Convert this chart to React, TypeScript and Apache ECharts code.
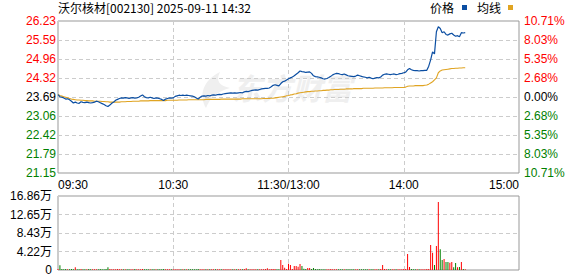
import React, { useEffect, useRef } from 'react';
import * as echarts from 'echarts';

const titleText = '沃尔核材[002130] 2025-09-11 14:32';
const priceTickLabels = ['21.15', '21.79', '22.42', '23.06', '23.69', '24.32', '24.96', '25.59', '26.23'];
const pctTickLabels = ['10.71%', '8.03%', '5.35%', '2.68%', '0.00%', '2.68%', '5.35%', '8.03%', '10.71%'];
const volTickLabels = ['0', '4.22万', '8.43万', '12.65万', '16.86万'];
const timeLabels = ['09:30', '10:30', '11:30/13:00', '14:00', '15:00'];
const prevClose = 23.69;

const prices = [
  23.77, 23.70, 23.68, 23.66, 23.62, 23.63, 23.60, 23.55, 23.49, 23.52,
  23.49, 23.48, 23.53, 23.51, 23.50, 23.52, 23.50, 23.49, 23.50, 23.52,
  23.55, 23.53, 23.50, 23.47, 23.44, 23.40, 23.37, 23.42, 23.48, 23.52,
  23.58, 23.61, 23.64, 23.66, 23.65, 23.67, 23.66, 23.64, 23.66, 23.67,
  23.65, 23.66, 23.68, 23.72, 23.76, 23.70, 23.67, 23.66, 23.68, 23.66,
  23.64, 23.66, 23.65, 23.63, 23.61, 23.57, 23.62, 23.64, 23.66, 23.65,
  23.66, 23.71, 23.73, 23.75, 23.74, 23.75, 23.74, 23.75, 23.74, 23.73,
  23.72, 23.70, 23.66, 23.62, 23.68, 23.72, 23.73, 23.72, 23.74, 23.73,
  23.75, 23.76, 23.75, 23.77, 23.78, 23.77, 23.79, 23.80, 23.81, 23.82,
  23.83, 23.82, 23.83, 23.82, 23.83, 23.84, 23.83, 23.86, 23.88, 23.87,
  23.89, 23.91, 23.92, 23.93, 23.92, 23.94, 23.96, 23.97, 23.98, 23.98,
  23.99, 24.03, 24.08, 24.10, 24.08, 24.06, 24.14, 24.20, 24.22, 24.26,
  24.30, 24.33, 24.36, 24.40, 24.45, 24.50, 24.56, 24.54, 24.53, 24.51,
  24.52, 24.53, 24.48, 24.40, 24.37, 24.36, 24.35, 24.33, 24.30, 24.29,
  24.31, 24.34, 24.38, 24.43, 24.46, 24.48, 24.47, 24.45, 24.44, 24.46,
  24.43, 24.40, 24.39, 24.38, 24.37, 24.39, 24.42, 24.40, 24.38, 24.36,
  24.35, 24.33, 24.35, 24.32, 24.30, 24.32, 24.34, 24.33, 24.36, 24.42,
  24.45, 24.46, 24.45, 24.44, 24.45, 24.46, 24.44, 24.45, 24.47, 24.48,
  24.50, 24.52, 24.60, 24.64, 24.60, 24.58, 24.57, 24.57, 24.56, 24.57,
  24.57, 24.58, 24.58, 24.72, 24.93, 25.20, 25.13, 25.87, 26.04, 25.98,
  25.84, 25.87, 25.78, 25.76, 25.80, 25.82, 25.76, 25.72, 25.74, 25.70,
  25.84, 25.83, 25.84,
];

const avgPrices = [
  23.77, 23.74, 23.72, 23.70, 23.68, 23.66, 23.64, 23.62, 23.61, 23.60,
  23.59, 23.59, 23.58, 23.58, 23.57, 23.57, 23.56, 23.56, 23.56, 23.55,
  23.55, 23.55, 23.55, 23.54, 23.54, 23.53, 23.53, 23.52, 23.52, 23.52,
  23.52, 23.52, 23.52, 23.53, 23.53, 23.53, 23.54, 23.54, 23.54, 23.55,
  23.55, 23.55, 23.55, 23.56, 23.56, 23.56, 23.56, 23.56, 23.57, 23.57,
  23.57, 23.57, 23.57, 23.57, 23.57, 23.57, 23.57, 23.58, 23.58, 23.58,
  23.58, 23.58, 23.58, 23.59, 23.59, 23.59, 23.59, 23.59, 23.60, 23.60,
  23.60, 23.60, 23.60, 23.60, 23.60, 23.60, 23.60, 23.61, 23.61, 23.61,
  23.61, 23.61, 23.61, 23.61, 23.61, 23.62, 23.62, 23.62, 23.62, 23.62,
  23.62, 23.62, 23.62, 23.62, 23.62, 23.62, 23.63, 23.63, 23.63, 23.63,
  23.63, 23.63, 23.63, 23.63, 23.63, 23.63, 23.63, 23.64, 23.64, 23.64,
  23.64, 23.65, 23.65, 23.66, 23.67, 23.68, 23.69, 23.70, 23.71, 23.73,
  23.74, 23.76, 23.77, 23.79, 23.80, 23.82, 23.83, 23.84, 23.85, 23.86,
  23.87, 23.87, 23.88, 23.88, 23.89, 23.89, 23.90, 23.90, 23.91, 23.91,
  23.92, 23.92, 23.93, 23.93, 23.94, 23.94, 23.94, 23.95, 23.95, 23.95,
  23.96, 23.96, 23.96, 23.96, 23.97, 23.97, 23.97, 23.97, 23.97, 23.98,
  23.98, 23.98, 23.98, 23.98, 23.98, 23.99, 23.99, 23.99, 23.99, 23.99,
  24.00, 24.00, 24.00, 24.00, 24.00, 24.01, 24.01, 24.01, 24.01, 24.01,
  24.01, 24.02, 24.05, 24.06, 24.06, 24.06, 24.07, 24.07, 24.07, 24.07,
  24.07, 24.08, 24.09, 24.12, 24.16, 24.20, 24.26, 24.33, 24.50, 24.56,
  24.59, 24.60, 24.61, 24.62, 24.63, 24.64, 24.64, 24.65, 24.65, 24.66,
  24.66, 24.67, 24.67,
];

// 成交量（万）
const volumes = [
  0.2, 1.06, 0.22, 0.18, 0.2, 0.15, 0.17, 0.2, 0.16, 0.6,
  0.18, 0.15, 0.2, 0.17, 0.16, 0.18, 0.2, 0.15, 0.17, 0.19,
  0.16, 0.18, 0.2, 0.17, 0.19, 0.22, 0.6, 0.2, 0.17, 0.18,
  0.16, 0.2, 0.15, 0.17, 0.18, 0.16, 0.19, 0.15, 0.18, 0.17,
  0.2, 0.16, 0.15, 0.18, 0.22, 0.17, 0.16, 0.18, 0.15, 0.17,
  0.16, 0.15, 0.17, 0.18, 0.16, 0.2, 0.17, 0.15, 0.16, 0.18,
  0.17, 0.19, 0.16, 0.15, 0.17, 0.16, 0.18, 0.15, 0.16, 0.17,
  0.15, 0.16, 0.18, 0.2, 0.17, 0.16, 0.15, 0.17, 0.16, 0.18,
  0.17, 0.16, 0.15, 0.18, 0.17, 0.16, 0.18, 0.17, 0.16, 0.15,
  0.17, 0.16, 0.18, 0.15, 0.17, 0.16, 0.18, 0.2, 0.42, 0.18,
  0.17, 0.16, 0.18, 0.17, 0.16, 0.18, 0.17, 0.16, 0.2, 0.4,
  0.18, 0.2, 0.22, 0.2, 0.18, 0.17, 2.28, 1.14, 0.5, 0.25,
  1.44, 1.14, 0.25, 0.9, 0.9, 0.76, 1.37, 0.9, 0.3, 0.2,
  0.45, 0.45, 0.2, 0.45, 0.2, 0.18, 0.2, 0.17, 0.19, 0.16,
  0.18, 0.17, 0.2, 0.18, 0.16, 0.17, 0.18, 0.16, 0.15, 0.17,
  0.16, 0.18, 0.17, 0.15, 0.16, 0.18, 0.17, 0.16, 0.15, 0.17,
  0.18, 0.16, 0.17, 0.15, 0.16, 0.17, 0.18, 0.16, 0.2, 1.14,
  0.2, 0.18, 0.16, 0.17, 0.15, 0.16, 0.18, 0.17, 0.16, 0.18,
  0.2, 0.22, 3.65, 0.68, 0.2, 0.18, 0.17, 0.16, 0.18, 0.17,
  0.16, 0.18, 0.2, 0.22, 5.7, 3.95, 1.14, 5.47, 15.5, 4.7,
  2.28, 2.5, 1.82, 1.82, 1.67, 1.82, 0.6, 1.6, 0.6, 0.7,
  1.82, 0.2, 0.15,
];

const AX_MIN = 21.15;
const AX_STEP = 0.635;
const VOL_STEP = 4.215;
const toAxis = (p: number) => (p - AX_MIN) / AX_STEP;

const RED = '#ff0000';
const GREEN = '#008000';
const BLUE = '#0b4ea2';
const ORANGE = '#e0a422';
const NUM_FONT = 'Arial, "Liberation Sans", "Noto Sans CJK SC", sans-serif';
const CJK_FONT = '"Noto Sans CJK SC", sans-serif';

const tickColor = (v: any) => {
  const n = Math.round(Number(v));
  return n > 4 ? RED : n < 4 ? GREEN : '#000000';
};

echarts.graphic.registerShape(
  'logo',
  echarts.graphic.extendPath('M22 0 C6 8 0 22 8 36 C12 26 18 20 32 16 C22 14 17 9 22 0 Z', {})
);

export default function App() {
  const ref = useRef<HTMLDivElement>(null);
  useEffect(() => {
    if (!ref.current) return;
    const chart = echarts.init(ref.current, null, { renderer: 'svg' });
    const splitStyle = { show: true, lineStyle: { color: '#cccccc', type: [4, 3] as any, width: 1 } };
    const option: any = {
      animation: false,
      grid: [
        { left: 58, top: 21, width: 461, height: 152, show: true, borderColor: '#999999', borderWidth: 1 },
        { left: 58, top: 196, width: 461, height: 74, show: true, borderColor: '#999999', borderWidth: 1 },
      ],
      xAxis: [
        {
          type: 'value', gridIndex: 0, min: 0, max: 240, interval: 60,
          axisLine: { show: false }, axisTick: { show: false }, splitLine: splitStyle,
          axisLabel: {
            show: true, margin: 6, fontSize: 12, color: '#000', fontFamily: NUM_FONT,
            formatter: (v: number) => timeLabels[Math.round(v / 60)],
            alignMinLabel: 'left', alignMaxLabel: 'right',
          },
        },
        {
          type: 'value', gridIndex: 1, min: 0, max: 240, interval: 60,
          axisLine: { show: false }, axisTick: { show: false }, splitLine: splitStyle,
          axisLabel: { show: false },
        },
      ],
      yAxis: [
        {
          type: 'value', gridIndex: 0, min: 0, max: 8, interval: 1, position: 'left',
          axisLine: { show: false }, axisTick: { show: false }, splitLine: splitStyle,
          axisLabel: {
            margin: 2, fontSize: 12, fontFamily: NUM_FONT,
            formatter: (v: number) => priceTickLabels[Math.round(v)],
            color: tickColor,
          },
        },
        {
          type: 'value', gridIndex: 0, min: 0, max: 8, interval: 1, position: 'right',
          axisLine: { show: false }, axisTick: { show: false }, splitLine: { show: false },
          axisLabel: {
            margin: 5, fontSize: 12, fontFamily: NUM_FONT,
            formatter: (v: number) => pctTickLabels[Math.round(v)],
            color: tickColor,
          },
        },
        {
          type: 'value', gridIndex: 1, min: 0, max: 16.86, interval: VOL_STEP, position: 'left',
          axisLine: { show: false }, axisTick: { show: false }, splitLine: splitStyle,
          axisLabel: {
            margin: 6, fontSize: 12, fontFamily: NUM_FONT, color: '#000',
            formatter: (v: number) => volTickLabels[Math.round(v / VOL_STEP)],
          },
        },
      ],
      graphic: [
        {
          type: 'text', left: 58, top: 1, z: 10,
          style: { text: titleText, fontSize: 12, fontFamily: CJK_FONT, fill: '#000' },
        },
        { type: 'text', left: 430, top: 1, z: 10, style: { text: '价格', fontSize: 12, fontFamily: CJK_FONT, fill: '#000' } },
        { type: 'rect', shape: { x: 462, y: 5, width: 5, height: 5 }, style: { fill: BLUE }, z: 10 },
        { type: 'text', left: 477, top: 1, z: 10, style: { text: '均线', fontSize: 12, fontFamily: CJK_FONT, fill: '#000' } },
        { type: 'rect', shape: { x: 508, y: 5, width: 5, height: 5 }, style: { fill: ORANGE }, z: 10 },
        { type: 'logo', x: 198, y: 72, scaleX: 1, scaleY: 1, style: { fill: '#efefef' }, z: 0 },
        {
          type: 'text', left: 232, top: 72, z: 0,
          style: { text: '东方财富', fontSize: 30, fontWeight: 'bold', fontStyle: 'italic', fontFamily: CJK_FONT, fill: '#efefef' },
        },
      ],
      series: [
        {
          type: 'line', xAxisIndex: 0, yAxisIndex: 0, showSymbol: false, silent: true,
          data: avgPrices.map((p, i) => [i, toAxis(p)]),
          lineStyle: { color: ORANGE, width: 1.1 }, z: 3,
        },
        {
          type: 'line', xAxisIndex: 0, yAxisIndex: 0, showSymbol: false, silent: true,
          data: prices.map((p, i) => [i, toAxis(p)]),
          lineStyle: { color: BLUE, width: 1.2 }, z: 4,
        },
        {
          type: 'bar', xAxisIndex: 1, yAxisIndex: 2, barWidth: 1, silent: true,
          data: volumes.map((v, i) => ({
            value: [i, v],
            itemStyle: { color: prices[i] >= (i === 0 ? prevClose : prices[i - 1]) ? RED : GREEN },
          })),
        },
      ],
    };
    chart.setOption(option);
    return () => chart.dispose();
  }, []);
  return <div ref={ref} style={{ position: 'absolute', left: 0, top: 0, width: 578, height: 276 }} />;
}
